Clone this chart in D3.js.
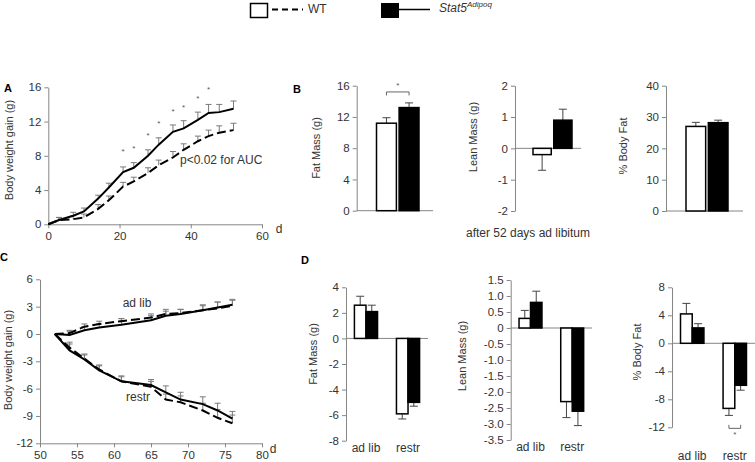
<!DOCTYPE html>
<html><head><meta charset="utf-8">
<script src="https://cdn.jsdelivr.net/npm/d3@7"></script>
<style>
body{margin:0;background:#fff;}
svg{display:block;font-family:"Liberation Sans",Arial,sans-serif;}
</style></head>
<body><svg id="c" width="755" height="462"></svg>
<script>
// ---------- DATA ----------
// Panel A (body weight gain, ad libitum)
const daysA = [0,3,7,10,14,17,21,24,28,31,35,38,42,45,48,52];
const wtA = [0,0.5,0.6,0.8,1.8,2.8,4.4,5.0,6.0,6.9,7.8,8.7,9.7,10.3,10.7,11.0];
const wtAErr = [0,0.3,0.4,0.4,0.5,0.5,0.5,0.5,0.6,0.6,0.7,0.7,0.6,0.7,0.8,0.8];
const statA = [0,0.5,1.0,1.5,3.0,4.3,6.1,6.6,8.0,9.3,10.8,11.2,12.2,13.0,13.1,13.5];
const statAErr = [0,0.3,0.4,0.4,0.4,0.5,0.6,0.6,0.7,0.8,0.8,0.9,0.9,1.0,0.9,0.9];
const sigDaysA = [21,24,28,31,35,38,42,45];
const sigYA = [8.5,8.9,10.4,11.8,13.2,13.6,14.7,15.8];
const xTicksA = [0,20,40,60];
const yTicksA = [0,4,8,12,16];

// Panel B (after 52 days ad libitum)
const genotypes = ["WT","Stat5Adipoq"];
const fatB = [11.2,13.2], fatBErr = [0.7,0.6];
const leanB = [-0.2,0.9], leanBErr = [0.5,0.35];
const pbfB = [27.0,28.2], pbfBErr = [1.3,0.8];
const fatBTicks = [0,4,8,12,16];
const leanBTicks = [-2,-1,0,1,2];
const pbfBTicks = [0,10,20,30,40];

// Panel C (ad lib vs restricted)
const daysC = [52,54,56,58,61,65,67,69,72,74,76];
const wtAdlib = [0,0.1,0.8,1.1,1.4,1.8,2.2,2.3,2.6,2.8,3.1];
const wtAdlibErr = [0,0.3,0.3,0.3,0.3,0.4,0.5,0.4,0.6,0.7,0.6];
const statAdlib = [0,-0.1,0.4,0.7,1.0,1.5,2.0,2.2,2.6,2.9,3.2];
const statAdlibErr = [0,0.4,0.4,0.4,0.5,0.5,0.5,0.5,0.5,0.6,0.6];
const wtRestr = [0,-1.5,-2.7,-3.9,-5.2,-5.8,-7.2,-7.5,-8.4,-9.2,-9.8];
const wtRestrErr = [0,0.6,0.5,0.5,0.5,0.6,0.6,0.7,0.8,0.9,0.9];
const statRestr = [0,-1.8,-2.8,-4.0,-5.2,-5.6,-6.4,-7.2,-7.7,-8.4,-9.3];
const statRestrErr = [0,0.7,0.5,0.5,0.6,0.6,0.7,0.8,0.8,0.8,0.8];
const xTicksC = [50,55,60,65,70,75,80];
const yTicksC = [6,3,0,-3,-6,-9,-12];

// Panel D (change during feeding period)
const groupsD = ["ad lib","restr"];
const fatDWT = [2.6,-5.9], fatDWTErr = [0.7,0.4];
const fatDST = [2.1,-5.0], fatDSTErr = [0.5,0.3];
const leanDWT = [0.3,-2.3], leanDWTErr = [0.25,0.5];
const leanDST = [0.8,-2.6], leanDSTErr = [0.35,0.45];
const pbfDWT = [4.2,-9.3], pbfDWTErr = [1.5,1.0];
const pbfDST = [2.2,-6.0], pbfDSTErr = [0.6,0.7];
const fatDTicks = [4,2,0,-2,-4,-6,-8];
const leanDTicks = [1.5,1.0,0.5,0,-0.5,-1.0,-1.5,-2.0,-2.5,-3.0,-3.5];
const leanDLabels = ["1.5","1.0","0.5","0","-0.5","-1.0","-1.5","-2.0","-2.5","-3.0","-3.5"];
const pbfDTicks = [8,4,0,-4,-8,-12];

// ---------- DRAWING ----------
const svg = d3.select("#c");
const AX = "#868686", TXT = "#333", ERR = "#7a7a7a";
const plain = d => String(d);

function styleAxis(g){
  g.select(".domain").attr("stroke",AX).attr("stroke-width",1);
  g.selectAll(".tick line").attr("stroke",AX);
  g.selectAll(".tick text").attr("fill",TXT).attr("font-size",11.5)
   .attr("font-family","'Liberation Sans',Arial,sans-serif");
}
function yTitle(text,x,y){
  svg.append("text").attr("transform",`translate(${x},${y}) rotate(-90)`)
    .attr("text-anchor","middle").attr("dominant-baseline","central")
    .attr("font-size",11).attr("fill",TXT).text(text);
}
function label(text,x,y,opts={}){
  return svg.append("text").attr("x",x).attr("y",y)
    .attr("text-anchor",opts.anchor||"middle").attr("dominant-baseline","central")
    .attr("font-size",opts.size||12).attr("fill",opts.fill||TXT)
    .attr("font-weight",opts.weight||"normal").text(text);
}
function errUp(g,x,y,days,vals,errs,cap){
  days.forEach((d,i)=>{
    if(!errs[i]) return;
    const xx=x(d), y0=y(vals[i]), y1=y(vals[i]+errs[i]);
    g.append("line").attr("x1",xx).attr("x2",xx).attr("y1",y0).attr("y2",y1).attr("stroke",ERR);
    g.append("line").attr("x1",xx-cap).attr("x2",xx+cap).attr("y1",y1).attr("y2",y1).attr("stroke",ERR);
  });
}
function seriesLine(g,x,y,days,vals,dashed){
  const line=d3.line().x((d,i)=>x(days[i])).y(d=>y(d));
  g.append("path").attr("d",line(vals)).attr("fill","none").attr("stroke","#000")
   .attr("stroke-width",2).attr("stroke-dasharray",dashed?"9,4":null);
}

// Legend
svg.append("rect").attr("x",250.5).attr("y",3.5).attr("width",17).attr("height",14)
  .attr("fill","#fff").attr("stroke","#000").attr("stroke-width",1.5);
svg.append("line").attr("x1",272).attr("x2",303).attr("y1",9.5).attr("y2",9.5)
  .attr("stroke","#000").attr("stroke-width",2).attr("stroke-dasharray","6,4");
label("WT",308,8.5,{anchor:"start"});
svg.append("rect").attr("x",381).attr("y",3).attr("width",18).attr("height",15).attr("fill","#000");
svg.append("line").attr("x1",399).attr("x2",430).attr("y1",9.5).attr("y2",9.5)
  .attr("stroke","#000").attr("stroke-width",1.5);
{
  const t=svg.append("text").attr("x",439).attr("y",12).attr("font-size",12).attr("fill",TXT).attr("font-style","italic");
  t.append("tspan").text("Stat5");
  t.append("tspan").attr("font-size",8).attr("dy",-5).text("Adipoq");
}

// Panel letters
label("A",8,88,{weight:"bold",size:11,fill:"#000"});
label("B",297,89,{weight:"bold",size:11,fill:"#000"});
label("C",4,257,{weight:"bold",size:11,fill:"#000"});
label("D",305,260,{weight:"bold",size:11,fill:"#000"});

// ----- Panel A -----
{
  const x=d3.scaleLinear().domain([0,60]).range([48.3,262]);
  const y=d3.scaleLinear().domain([0,16]).range([224.3,87.3]);
  const g=svg.append("g");
  g.append("g").attr("transform","translate(0,224.3)")
   .call(d3.axisBottom(x).tickValues(xTicksA).tickFormat(plain).tickSize(4).tickSizeOuter(0).tickPadding(4)).call(styleAxis);
  g.append("g").attr("transform","translate(48.3,0)")
   .call(d3.axisLeft(y).tickValues(yTicksA).tickFormat(plain).tickSize(4).tickSizeOuter(0).tickPadding(3)).call(styleAxis);
  errUp(g,x,y,daysA,wtA,wtAErr,3);
  errUp(g,x,y,daysA,statA,statAErr,3);
  seriesLine(g,x,y,daysA,wtA,true);
  seriesLine(g,x,y,daysA,statA,false);
  sigDaysA.forEach((d,i)=>{
    g.append("text").attr("x",x(d)).attr("y",y(sigYA[i])).attr("text-anchor","middle")
     .attr("dominant-baseline","central").attr("font-size",8).attr("fill","#555").text("*");
  });
  label("p<0.02 for AUC",180,160,{anchor:"start",size:12});
  label("d",279,229,{size:12});
  yTitle("Body weight gain (g)",9,150);
}

// ----- Panel B -----
function barB(cfg){
  const y=d3.scaleLinear().domain(cfg.domain).range([cfg.yb,cfg.yt]);
  const xb=d3.scaleBand().domain(genotypes).range([cfg.b0,cfg.b1]).paddingInner(0.12);
  const g=svg.append("g");
  g.append("line").attr("x1",cfg.ax).attr("x2",cfg.ae).attr("y1",y(0)).attr("y2",y(0)).attr("stroke",AX);
  g.append("g").attr("transform",`translate(${cfg.ax},0)`)
   .call(d3.axisLeft(y).tickValues(cfg.ticks).tickFormat(plain).tickSize(4).tickSizeOuter(0).tickPadding(3)).call(styleAxis);
  genotypes.forEach((k,i)=>{
    const v=cfg.vals[i], e=cfg.errs[i], cx=xb(k)+xb.bandwidth()/2;
    const ye=y(v+Math.sign(v)*e);
    g.append("line").attr("x1",cx).attr("x2",cx).attr("y1",y(v)).attr("y2",ye).attr("stroke","#444");
    g.append("line").attr("x1",cx-4).attr("x2",cx+4).attr("y1",ye).attr("y2",ye).attr("stroke","#444");
    g.append("rect").attr("x",xb(k)).attr("width",xb.bandwidth())
     .attr("y",Math.min(y(0),y(v))).attr("height",Math.abs(y(v)-y(0)))
     .attr("fill",i===0?"#fff":"#000").attr("stroke","#000").attr("stroke-width",1.5);
  });
  yTitle(cfg.title,cfg.tx,cfg.ty);
  return {g,y,xb};
}
{
  const p=barB({domain:[0,16],yb:210.7,yt:85.7,ax:356.7,ae:433,b0:376.5,b1:419,ticks:fatBTicks,
    vals:fatB,errs:fatBErr,title:"Fat Mass (g)",tx:316,ty:148});
  const c0=p.xb(genotypes[0])+p.xb.bandwidth()/2, c1=p.xb(genotypes[1])+p.xb.bandwidth()/2;
  const yb=p.y(15.2);
  p.g.append("path").attr("d",`M${c0},${yb+3.5}V${yb}H${c1}V${yb+3.5}`).attr("fill","none").attr("stroke","#666");
  p.g.append("text").attr("x",(c0+c1)/2).attr("y",p.y(16.0)).attr("text-anchor","middle")
   .attr("dominant-baseline","central").attr("font-size",8).attr("fill","#555").text("*");
}
barB({domain:[-2,2],yb:211,yt:85.7,ax:515,ae:581,b0:533,b1:572,ticks:leanBTicks,
  vals:leanB,errs:leanBErr,title:"Lean Mass (g)",tx:473,ty:137});
barB({domain:[0,40],yb:211,yt:85.7,ax:666,ae:743,b0:686,b1:728,ticks:pbfBTicks,
  vals:pbfB,errs:pbfBErr,title:"% Body Fat",tx:623,ty:146});
label("after 52 days ad libitum",528,233,{size:12});

// ----- Panel C -----
{
  const x=d3.scaleLinear().domain([50,80]).range([40,262]);
  const y=d3.scaleLinear().domain([-12,6]).range([443.3,279.3]);
  const g=svg.append("g");
  g.append("g").attr("transform","translate(0,443.3)")
   .call(d3.axisBottom(x).tickValues(xTicksC).tickFormat(plain).tickSize(4).tickSizeOuter(0).tickPadding(4)).call(styleAxis);
  g.append("g").attr("transform","translate(40,0)")
   .call(d3.axisLeft(y).tickValues(yTicksC).tickFormat(plain).tickSize(4).tickSizeOuter(0).tickPadding(3)).call(styleAxis);
  errUp(g,x,y,daysC,wtAdlib,wtAdlibErr,3);
  errUp(g,x,y,daysC,statAdlib,statAdlibErr,3);
  errUp(g,x,y,daysC,wtRestr,wtRestrErr,3);
  errUp(g,x,y,daysC,statRestr,statRestrErr,3);
  seriesLine(g,x,y,daysC,wtAdlib,true);
  seriesLine(g,x,y,daysC,statAdlib,false);
  seriesLine(g,x,y,daysC,wtRestr,true);
  seriesLine(g,x,y,daysC,statRestr,false);
  label("ad lib",137,303,{size:12});
  label("restr",138,397,{size:12});
  label("d",273,449,{size:12});
  yTitle("Body weight gain (g)",8,360);
}

// ----- Panel D -----
function barD(cfg){
  const y=d3.scaleLinear().domain(cfg.domain).range([cfg.yb,cfg.yt]);
  const xg=d3.scaleBand().domain(groupsD).range([cfg.ax,cfg.ae]).paddingInner(0.45).paddingOuter(0.2);
  const xi=d3.scaleBand().domain(genotypes).range([0,xg.bandwidth()]);
  const g=svg.append("g");
  g.append("line").attr("x1",cfg.ax).attr("x2",cfg.ae).attr("y1",y(0)).attr("y2",y(0)).attr("stroke",AX);
  g.append("g").attr("transform",`translate(${cfg.ax},0)`)
   .call(d3.axisLeft(y).tickValues(cfg.ticks).tickFormat((d,i)=>cfg.labels?cfg.labels[i]:String(d)).tickSize(4).tickSizeOuter(0).tickPadding(3)).call(styleAxis);
  groupsD.forEach((grp,j)=>{
    [[cfg.wt,cfg.wtE],[cfg.st,cfg.stE]].forEach(([vals,errs],i)=>{
      const v=vals[j], e=errs[j], x0=xg(grp)+xi(genotypes[i]), cx=x0+xi.bandwidth()/2;
      const ye=y(v+Math.sign(v)*e);
      g.append("line").attr("x1",cx).attr("x2",cx).attr("y1",y(v)).attr("y2",ye).attr("stroke","#444");
      g.append("line").attr("x1",cx-4).attr("x2",cx+4).attr("y1",ye).attr("y2",ye).attr("stroke","#444");
      g.append("rect").attr("x",x0).attr("width",xi.bandwidth())
       .attr("y",Math.min(y(0),y(v))).attr("height",Math.abs(y(v)-y(0)))
       .attr("fill",i===0?"#fff":"#000").attr("stroke","#000").attr("stroke-width",1.5);
    });
    label(grp,xg(grp)+xg.bandwidth()/2,cfg.ly,{size:12});
  });
  yTitle(cfg.title,cfg.tx,cfg.ty);
  return {g,y,xg,xi};
}
barD({domain:[-8,4],yb:440.7,yt:287.3,ax:346,ae:428,ticks:fatDTicks,
  wt:fatDWT,wtE:fatDWTErr,st:fatDST,stE:fatDSTErr,title:"Fat Mass (g)",tx:313,ty:354,ly:448});
barD({domain:[-3.5,1.5],yb:440,yt:280,ax:510.7,ae:592,ticks:leanDTicks,labels:leanDLabels,
  wt:leanDWT,wtE:leanDWTErr,st:leanDST,stE:leanDSTErr,title:"Lean Mass (g)",tx:462,ty:356,ly:447});
{
  const p=barD({domain:[-12,8],yb:427.3,yt:287.3,ax:672,ae:755,ticks:pbfDTicks,
    wt:pbfDWT,wtE:pbfDWTErr,st:pbfDST,stE:pbfDSTErr,title:"% Body Fat",tx:637,ty:352,ly:456});
  const bx=p.xg("restr");
  const c0=bx+p.xi.bandwidth()/2, c1=bx+p.xi.bandwidth()*1.5;
  const yb=p.y(-12.15);
  p.g.append("path").attr("d",`M${c0},${yb-3.5}V${yb}H${c1}V${yb-3.5}`).attr("fill","none").attr("stroke","#666");
  p.g.append("text").attr("x",(c0+c1)/2).attr("y",p.y(-12.8)+2).attr("text-anchor","middle")
   .attr("dominant-baseline","central").attr("font-size",8).attr("fill","#555").text("*");
}
</script></body></html>
